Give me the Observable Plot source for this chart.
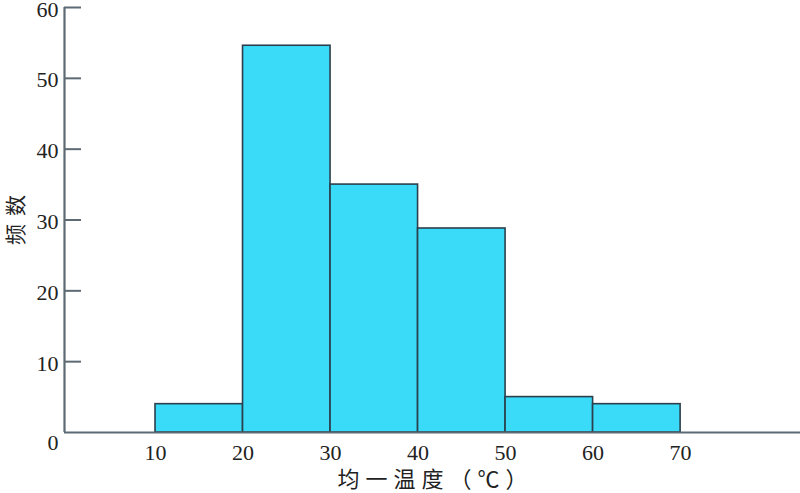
<!DOCTYPE html>
<html>
<head>
<meta charset="utf-8">
<script src="https://cdn.jsdelivr.net/npm/d3@7"></script>
<script src="https://cdn.jsdelivr.net/npm/@observablehq/plot@0.6"></script>
<style>
body { margin: 0; background: #fff; }
svg { display: block; }
</style>
</head>
<body>
<div id="chart"></div>
<script>
const binStart = [10, 20, 30, 40, 50, 60];
const binEnd = [20, 30, 40, 50, 60, 70];
const counts = [4, 54.6, 35, 28.8, 5, 4];
const xTicks = [10, 20, 30, 40, 50, 60, 70];
const yTicks = [10, 20, 30, 40, 50, 60];
const xLabel = "均一温度（℃）";
const yLabel = "频数";

const bins = binStart.map((s, i) => ({x1: s, x2: binEnd[i], y: counts[i]}));
const axisColor = "#5d6a74";
const font = "'Liberation Serif', 'Noto Sans CJK SC', serif";
const xMin = -0.4, xMax = 83.7;

const chart = Plot.plot({
  width: 800,
  height: 493,
  marginLeft: 64,
  marginRight: 0,
  marginTop: 7,
  marginBottom: 61,
  style: {fontFamily: font, fontSize: "22px", color: "#222", background: "#fff"},
  x: {domain: [xMin, xMax], axis: null},
  y: {domain: [0, 60], axis: null},
  marks: [
    Plot.rectY(bins, {x1: "x1", x2: "x2", y: "y", fill: "#3adaf9", stroke: "#2b3f4c", strokeWidth: 1.6}),
    Plot.tickY(yTicks, {y: d => d, stroke: axisColor, strokeWidth: 2, insetRight: 800 - 64 - 17}),
    Plot.ruleX([xMin], {stroke: axisColor, strokeWidth: 2.2}),
    Plot.ruleY([0], {stroke: axisColor, strokeWidth: 2.2}),
    Plot.text(yTicks, {x: xMin, y: d => d, text: d => String(d), textAnchor: "end", dx: -6, dy: 2, fill: "#222", fontSize: 22}),
    Plot.text([0], {x: xMin, y: d => d, text: d => String(d), textAnchor: "end", dx: -6, dy: 10, fill: "#222", fontSize: 22}),
    Plot.text(xTicks, {x: d => d, y: 0, text: d => String(d), dy: 20, fill: "#222", fontSize: 22}),
    Plot.text([xLabel], {frameAnchor: "bottom", lineAnchor: "middle", dy: 47, dx: 3, text: d => d, fill: "#222", fontSize: 22, fontFamily: "'Noto Sans CJK SC', serif"}),
    Plot.text([yLabel], {frameAnchor: "left", lineAnchor: "middle", dx: -48, dy: 25, text: d => d, rotate: -90, fill: "#222", fontSize: 21, fontFamily: "'Noto Sans CJK SC', serif"})
  ]
});
chart.querySelectorAll("text").forEach(t => {
  if (t.textContent === xLabel) t.style.letterSpacing = "6px";
  if (t.textContent === yLabel) t.style.letterSpacing = "8px";
});
document.getElementById("chart").appendChild(chart);
</script>
</body>
</html>
